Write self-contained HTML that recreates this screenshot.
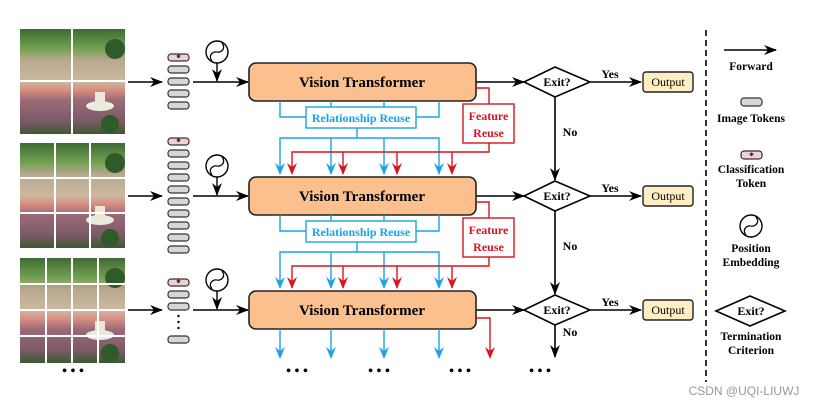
<!DOCTYPE html>
<html><head><meta charset="utf-8"><style>
html,body{margin:0;padding:0;background:#fff;}
svg{display:block;font-family:"Liberation Serif",serif;}
.b{font-weight:bold;}
</style></head><body>
<svg width="819" height="408" viewBox="0 0 819 408" xmlns="http://www.w3.org/2000/svg">
<defs>
<marker id="ak" markerWidth="13" markerHeight="10" refX="12" refY="5" orient="auto" markerUnits="userSpaceOnUse"><path d="M0,0 L13,5 L0,10 L4,5 Z" fill="#000"/></marker>
<linearGradient id="img" x1="0" y1="0" x2="0" y2="1">
<stop offset="0" stop-color="#3f6a36"/><stop offset="0.18" stop-color="#6fa04e"/><stop offset="0.3" stop-color="#b9a890"/><stop offset="0.5" stop-color="#cbb9a0"/><stop offset="0.58" stop-color="#d98e80"/><stop offset="0.68" stop-color="#9a6a78"/><stop offset="0.88" stop-color="#7c5a66"/><stop offset="1" stop-color="#3d5a30"/>
</linearGradient>
<g id="pic"><rect width="105" height="105" fill="url(#img)"/><ellipse cx="80" cy="77" rx="14" ry="5" fill="#e8ecdf"/><rect x="75" y="63" width="10" height="13" fill="#efe8d8"/><circle cx="95" cy="20" r="10" fill="#2f5a2a"/><circle cx="90" cy="95" r="9" fill="#2f5a2a"/></g>
<g id="pe"><circle r="11" fill="none" stroke="#000" stroke-width="1.4"/><path d="M-5,9 C-10,2 -2,-1 0,0 C2,1 10,-2 5,-9" fill="none" stroke="#000" stroke-width="1.2"/></g>
</defs>

<use href="#pic" x="20" y="29"/>
<g stroke="#fff" stroke-width="2"><line x1="72" y1="29" x2="72" y2="134"/><line x1="20" y1="81" x2="125" y2="81"/></g>
<use href="#pic" x="20" y="143"/>
<g stroke="#fff" stroke-width="2"><line x1="55" y1="143" x2="55" y2="248"/><line x1="90" y1="143" x2="90" y2="248"/><line x1="20" y1="178" x2="125" y2="178"/><line x1="20" y1="213" x2="125" y2="213"/></g>
<use href="#pic" x="20" y="258"/>
<g stroke="#fff" stroke-width="2"><line x1="46" y1="258" x2="46" y2="363"/><line x1="72" y1="258" x2="72" y2="363"/><line x1="98" y1="258" x2="98" y2="363"/><line x1="20" y1="284" x2="125" y2="284"/><line x1="20" y1="310" x2="125" y2="310"/><line x1="20" y1="336" x2="125" y2="336"/></g>

<g stroke="#000" stroke-width="1.6" marker-end="url(#ak)">
<line x1="128" y1="82" x2="162" y2="82"/><line x1="128" y1="196" x2="162" y2="196"/><line x1="128" y1="310" x2="162" y2="310"/>
</g>

<g stroke="#333" stroke-width="1.2" fill="#d6d6d6">
<rect x="168" y="54" width="21" height="7" rx="3" fill="#f3cfcf"/>
<rect x="168" y="66" width="21" height="7" rx="3"/><rect x="168" y="78" width="21" height="7" rx="3"/><rect x="168" y="90" width="21" height="7" rx="3"/><rect x="168" y="102" width="21" height="7" rx="3"/>
<rect x="168" y="138" width="21" height="7" rx="3" fill="#f3cfcf"/>
<rect x="168" y="150" width="21" height="7" rx="3"/><rect x="168" y="162" width="21" height="7" rx="3"/><rect x="168" y="174" width="21" height="7" rx="3"/><rect x="168" y="186" width="21" height="7" rx="3"/><rect x="168" y="198" width="21" height="7" rx="3"/><rect x="168" y="210" width="21" height="7" rx="3"/><rect x="168" y="222" width="21" height="7" rx="3"/><rect x="168" y="234" width="21" height="7" rx="3"/><rect x="168" y="246" width="21" height="7" rx="3"/>
<rect x="168" y="279" width="21" height="7" rx="3" fill="#f3cfcf"/>
<rect x="168" y="291" width="21" height="7" rx="3"/><rect x="168" y="303" width="21" height="7" rx="3"/><rect x="168" y="336" width="21" height="7" rx="3"/>
</g>
<g font-size="9" class="b" text-anchor="middle"><text x="178.5" y="61">*</text><text x="178.5" y="145">*</text><text x="178.5" y="286">*</text></g>
<g fill="#000"><circle cx="178.5" cy="316" r="1.2"/><circle cx="178.5" cy="322" r="1.2"/><circle cx="178.5" cy="328" r="1.2"/></g>

<use href="#pe" x="217" y="52"/><use href="#pe" x="217" y="166"/><use href="#pe" x="217" y="280"/>
<g stroke="#000" stroke-width="1.4">
<line x1="217" y1="63" x2="217" y2="81" marker-end="url(#ak)"/><line x1="217" y1="177" x2="217" y2="195" marker-end="url(#ak)"/><line x1="217" y1="291" x2="217" y2="309" marker-end="url(#ak)"/>
</g>
<g stroke="#000" stroke-width="1.6" marker-end="url(#ak)">
<line x1="193" y1="82" x2="248" y2="82"/><line x1="193" y1="196" x2="248" y2="196"/><line x1="193" y1="310" x2="248" y2="310"/>
<line x1="476" y1="82" x2="524" y2="82"/><line x1="476" y1="196" x2="524" y2="196"/><line x1="476" y1="310" x2="524" y2="310"/>
<line x1="590" y1="82" x2="641" y2="82"/><line x1="590" y1="196" x2="641" y2="196"/><line x1="590" y1="310" x2="641" y2="310"/>
<line x1="555" y1="97" x2="555" y2="180"/><line x1="555" y1="211" x2="555" y2="294"/><line x1="555" y1="325" x2="555" y2="357"/>
</g>

<g fill="#fcc08f" stroke="#222" stroke-width="1.6">
<rect x="249" y="63" width="227" height="38" rx="7"/><rect x="249" y="177" width="227" height="38" rx="7"/><rect x="249" y="291" width="227" height="38" rx="7"/>
</g>
<g font-size="15" class="b" text-anchor="middle"><text x="362" y="87">Vision Transformer</text><text x="362" y="201">Vision Transformer</text><text x="362" y="315">Vision Transformer</text></g>

<g id="reuse">
<g fill="none" stroke="#1aa3e8" stroke-width="1.4">
<path d="M331,101 V108 M384,101 V108 M280,101 V117 H306 M439,101 V117 H416"/>
<path d="M357,128 V138 M280,174 V138 H439 V174 M331,138 V174 M384,138 V174"/>
</g>
<g fill="#1aa3e8"><path d="M275,163 L280,175 L285,163 L280,167Z"/><path d="M326,163 L331,175 L336,163 L331,167Z"/><path d="M379,163 L384,175 L389,163 L384,167Z"/><path d="M434,163 L439,175 L444,163 L439,167Z"/></g>
<rect x="306" y="107" width="110" height="21" fill="#fff" stroke="#1aa3e8" stroke-width="1.4"/>
<text x="361" y="122" font-size="12" class="b" fill="#1aa3e8" text-anchor="middle">Relationship Reuse</text>
<path d="M476,88 H489 V152 H292 V174 M343,152 V174 M397,152 V174 M452,152 V174" fill="none" stroke="#d9141e" stroke-width="1.4"/>
<g fill="#d9141e"><path d="M287,163 L292,175 L297,163 L292,167Z"/><path d="M338,163 L343,175 L348,163 L343,167Z"/><path d="M392,163 L397,175 L402,163 L397,167Z"/><path d="M447,163 L452,175 L457,163 L452,167Z"/></g>
<rect x="463" y="104" width="51" height="39" fill="#fff" stroke="#d9141e" stroke-width="1.4"/>
<text x="488.5" y="120" font-size="12" class="b" fill="#d9141e" text-anchor="middle">Feature</text>
<text x="488.5" y="137" font-size="12" class="b" fill="#d9141e" text-anchor="middle">Reuse</text>
</g>
<use href="#reuse" y="114"/>

<g fill="none" stroke="#1aa3e8" stroke-width="1.4"><path d="M280,329 V356 M331,329 V356 M384,329 V356 M439,329 V356"/></g>
<g fill="#1aa3e8"><path d="M275,347 L280,359 L285,347 L280,351Z"/><path d="M326,347 L331,359 L336,347 L331,351Z"/><path d="M379,347 L384,359 L389,347 L384,351Z"/><path d="M434,347 L439,359 L444,347 L439,351Z"/></g>
<path d="M476,318 H490 V356" fill="none" stroke="#d9141e" stroke-width="1.4"/>
<path d="M485,347 L490,359 L495,347 L490,351Z" fill="#d9141e"/>

<g fill="#fff" stroke="#000" stroke-width="1.6">
<path d="M524,82 L555,67 L590,82 L555,97Z"/><path d="M524,196 L555,181 L590,196 L555,211Z"/><path d="M524,310 L555,295 L590,310 L555,325Z"/>
<path d="M716,311 L750,296 L785,311 L750,326Z"/>
</g>
<g font-size="12" class="b" text-anchor="middle">
<text x="557" y="86">Exit?</text><text x="557" y="200">Exit?</text><text x="557" y="314">Exit?</text><text x="751" y="315">Exit?</text>
<text x="610" y="78">Yes</text><text x="610" y="192">Yes</text><text x="610" y="306">Yes</text>
<text x="570" y="136">No</text><text x="570" y="250">No</text><text x="570" y="336">No</text>
</g>
<g fill="#fdefc3" stroke="#222" stroke-width="1.4">
<rect x="643" y="72" width="50" height="20" rx="3"/><rect x="643" y="186" width="50" height="20" rx="3"/><rect x="643" y="300" width="50" height="20" rx="3"/>
</g>
<g font-size="12" text-anchor="middle"><text x="668" y="86">Output</text><text x="668" y="200">Output</text><text x="668" y="314">Output</text></g>

<g font-size="14" class="b" text-anchor="middle"><text x="73" y="375">• • •</text><text x="297" y="375">• • •</text><text x="379" y="375">• • •</text><text x="460" y="375">• • •</text><text x="540" y="375">• • •</text></g>

<line x1="706" y1="30" x2="706" y2="382" stroke="#000" stroke-width="1.6" stroke-dasharray="6,4"/>
<line x1="724" y1="50" x2="776" y2="50" stroke="#000" stroke-width="1.6" marker-end="url(#ak)"/>
<rect x="741" y="98" width="21" height="8" rx="3" fill="#d6d6d6" stroke="#333" stroke-width="1.2"/>
<rect x="741" y="151" width="21" height="8" rx="3" fill="#f3cfcf" stroke="#333" stroke-width="1.2"/>
<text x="751.5" y="159" font-size="9" class="b" text-anchor="middle">*</text>
<use href="#pe" x="751" y="226"/>
<g font-size="11.5" class="b" text-anchor="middle">
<text x="751" y="70">Forward</text><text x="751" y="122">Image Tokens</text>
<text x="751" y="173">Classification</text><text x="751" y="187">Token</text>
<text x="751" y="252">Position</text><text x="751" y="266">Embedding</text>
<text x="751" y="340">Termination</text><text x="751" y="354">Criterion</text>
</g>
<text x="744" y="395" font-size="12" fill="#999" text-anchor="middle" font-family="Liberation Sans, sans-serif">CSDN @UQI-LIUWJ</text>
</svg>
</body></html>
